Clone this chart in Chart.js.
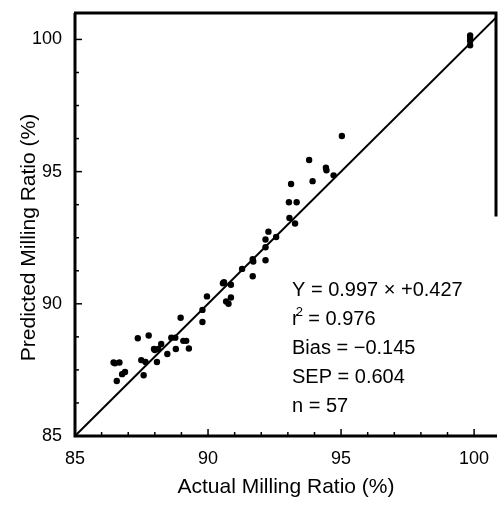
<!DOCTYPE html>
<html>
<head>
<meta charset="utf-8">
<script src="https://cdn.jsdelivr.net/npm/chart.js@4.4.0/dist/chart.umd.min.js"></script>
<style>
  html, body { margin: 0; padding: 0; background: #fff; overflow: hidden; }
</style>
</head>
<body>
<canvas id="millChart" width="498" height="505"></canvas>
<script>
// actual vs predicted milling ratio (%)
var actual = [
  86.45, 86.67, 86.57, 86.77, 86.88, 87.36, 87.77, 87.49, 87.58, 87.65,
  87.97, 88.13, 88.24, 88.08, 88.47, 88.62, 88.77, 88.79, 89.07, 89.18,
  89.28, 89.79, 88.97, 89.79, 89.96, 90.56, 90.86, 90.68, 90.77, 90.86,
  91.28, 91.68, 91.70, 91.68, 92.16, 92.16, 92.16, 92.27, 92.56, 93.06,
  93.04, 93.33, 93.27, 93.12, 93.93, 94.43, 94.45, 94.72, 93.80, 95.03,
  99.85, 99.85, 99.85, 99.85, 88.00, 90.60, 86.50
];
var predicted = [
  87.78, 87.78, 87.08, 87.34, 87.42, 88.70, 88.80, 87.87, 87.30, 87.80,
  88.29, 88.29, 88.48, 87.80, 88.10, 88.72, 88.72, 88.29, 88.60, 88.60,
  88.31, 89.31, 89.47, 89.77, 90.28, 90.78, 90.72, 90.09, 90.00, 90.24,
  91.32, 91.69, 91.60, 91.04, 92.14, 92.43, 91.65, 92.73, 92.53, 93.25,
  93.84, 93.84, 93.04, 94.53, 94.64, 95.15, 95.05, 94.86, 95.44, 96.35,
  100.15, 100.05, 99.95, 99.78, 88.25, 90.82, 87.75
];
// 1:1 line
var lineX = [85, 101];
var lineY = [85, 101];

var xTicks = [85, 90, 95, 100];
var yTicks = [85, 90, 95, 100];

var statText = [
  "Y = 0.997 \u00d7 +0.427",
  "r\u00b2 = 0.976",
  "Bias = \u22120.145",
  "SEP = 0.604",
  "n = 57"
];

var fam = "'Liberation Sans', Arial, Helvetica, sans-serif";

var points = [];
for (var i = 0; i < actual.length; i++) {
  points.push({ x: actual[i], y: predicted[i] });
}
var linePts = [];
for (var j = 0; j < lineX.length; j++) {
  linePts.push({ x: lineX[j], y: lineY[j] });
}

var framePlugin = {
  id: "frame",
  afterDatasetsDraw: function (chart) {
    var ctx = chart.ctx;
    var a = chart.chartArea;
    var xs = chart.scales.x;
    var ys = chart.scales.y;
    ctx.save();
    ctx.strokeStyle = "#000";
    ctx.lineCap = "butt";

    // axis lines and box (right side fades out in the original)
    ctx.lineWidth = 3;
    ctx.beginPath();
    ctx.moveTo(a.left, a.top);
    ctx.lineTo(a.left, a.bottom);
    ctx.lineTo(a.right, a.bottom);
    ctx.stroke();
    ctx.beginPath();
    ctx.moveTo(a.left - 1, a.top);
    ctx.lineTo(a.right - 1, a.top);
    ctx.lineTo(a.right - 1, ys.getPixelForValue(93.3));
    ctx.stroke();

    // inward tick marks
    ctx.lineWidth = 1.5;
    var v, p;
    for (v = 85; v <= 100; v += 1) {
      p = xs.getPixelForValue(v);
      var len = (v % 5 === 0) ? 7 : 4;
      ctx.beginPath();
      ctx.moveTo(p, a.bottom);
      ctx.lineTo(p, a.bottom - len);
      ctx.stroke();
    }
    for (v = 85; v <= 100; v += 1.25) {
      p = ys.getPixelForValue(v);
      var len2 = (v % 5 === 0) ? 7 : 4;
      ctx.beginPath();
      ctx.moveTo(a.left, p);
      ctx.lineTo(a.left + len2, p);
      ctx.stroke();
    }

    // y axis title
    ctx.fillStyle = "#000";
    ctx.font = "21px " + fam;
    ctx.textAlign = "center";
    ctx.textBaseline = "middle";
    ctx.save();
    ctx.translate(29, (a.top + a.bottom) / 2 + 13);
    ctx.rotate(-Math.PI / 2);
    ctx.fillText("Predicted Milling Ratio (%)", 0, 0);
    ctx.restore();

    // regression stats
    ctx.textAlign = "left";
    ctx.textBaseline = "alphabetic";
    var tx = 292;
    var ty = 296;
    for (var k = 0; k < statText.length; k++) {
      var s = statText[k];
      var by = ty + k * 29;
      ctx.font = "20px " + fam;
      if (s.indexOf("\u00b2") >= 0) {
        var parts = s.split("\u00b2");
        ctx.fillText(parts[0], tx, by);
        var w = ctx.measureText(parts[0]).width;
        ctx.font = "13px " + fam;
        ctx.fillText("2", tx + w - 3, by - 9);
        ctx.font = "20px " + fam;
        ctx.fillText(parts[1], tx + w + 4, by);
      } else {
        ctx.fillText(s, tx, by);
      }
    }
    ctx.restore();
  }
};

new Chart(document.getElementById("millChart"), {
  type: "scatter",
  data: {
    datasets: [{
      label: "Samples",
      data: points,
      backgroundColor: "#000",
      borderColor: "#000",
      pointRadius: 3.2,
      pointBorderWidth: 0
    }, {
      type: "line",
      label: "1:1",
      data: linePts,
      borderColor: "#000",
      borderWidth: 2,
      pointRadius: 0,
      fill: false
    }]
  },
  options: {
    responsive: false,
    animation: false,
    devicePixelRatio: 1,
    layout: { autoPadding: false, padding: { top: 13, right: 1, left: 0, bottom: 0 } },
    plugins: {
      legend: { display: false },
      tooltip: { enabled: false }
    },
    scales: {
      x: {
        type: "linear",
        min: 85,
        max: 100.86,
        grid: { display: false, drawTicks: false },
        border: { display: false },
        ticks: { color: "#000", font: { family: fam, size: 18 }, padding: 12 },
        afterBuildTicks: function (s) {
          s.ticks = xTicks.map(function (t) { return { value: t }; });
        },
        afterFit: function (s) {
          s.height = 69;
          s.paddingLeft = 0;
          s.paddingRight = 0;
        },
        title: {
          display: true,
          text: "Actual Milling Ratio (%)",
          color: "#000",
          font: { family: fam, size: 21 },
          padding: { top: 0, bottom: 5 }
        }
      },
      y: {
        type: "linear",
        min: 85,
        max: 101,
        grid: { display: false, drawTicks: false },
        border: { display: false },
        ticks: { color: "#000", font: { family: fam, size: 18 }, padding: 13 },
        afterBuildTicks: function (s) {
          s.ticks = yTicks.map(function (t) { return { value: t }; });
        },
        afterFit: function (s) {
          s.width = 75;
          s.paddingTop = 0;
          s.paddingBottom = 0;
        }
      }
    }
  },
  plugins: [framePlugin]
});
</script>
</body>
</html>
